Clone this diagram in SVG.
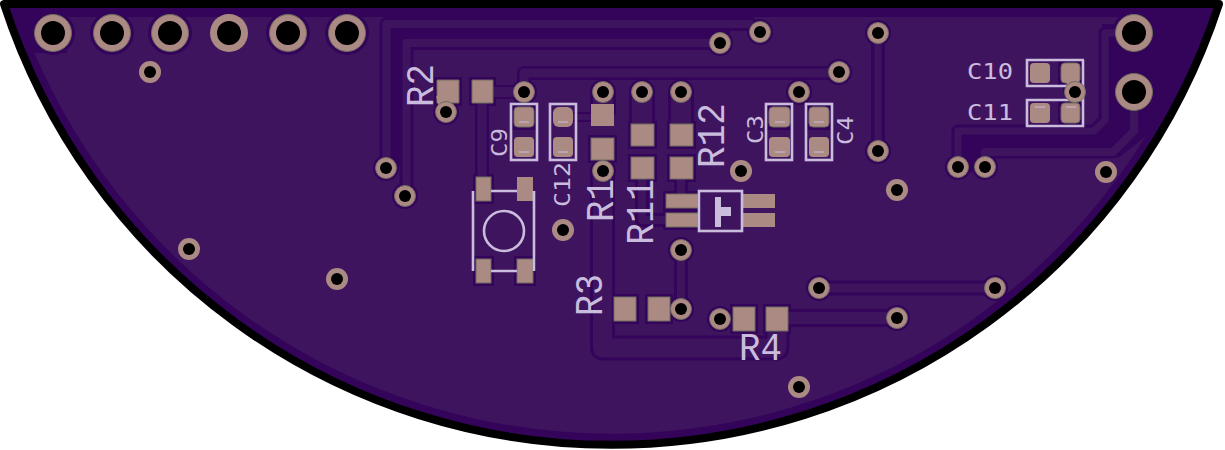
<svg xmlns="http://www.w3.org/2000/svg" width="1225" height="450" viewBox="0 0 1225 450">
<style>
.iso{fill:none;stroke:#33045a;stroke-linejoin:round}
.tr{fill:none;stroke:#3f145f;stroke-linejoin:round}
.p{fill:#ac8a84}
.pg{fill:#ac8a84;stroke:#6e6c60;stroke-width:1}
.v{fill:#ac8a84}
.vg{fill:#ac8a84;stroke:#6e6c60;stroke-width:1}
.h{fill:#000}
.s{fill:none;stroke:#c9bcdc;stroke-width:2.600}
.sf{fill:#c9bcdc}
text{font-family:"DejaVu Sans Mono","Liberation Mono",monospace;fill:#c9bcdc}
.big{font-family:"Liberation Mono","DejaVu Sans Mono",monospace;font-size:39px}
.sm{font-size:21px}
</style>
<rect width="1225" height="450" fill="#fff"/>
<g id="board">
<path d="M4 4H1219A639 639 0 0 1 4 4Z" fill="#33045a" stroke="#000" stroke-width="8" stroke-linejoin="round"/>
<path d="M67 17H1118L1125 24H1102V120L1094 128H958V172H985V155H1113L1146.500 135A628 628 0 0 1 34.500 53H67Z" fill="#3f145f"/>
</g>
<g id="connectors">
<path class="iso" stroke-width="14" d="M386.500 168V24H750L760 32"/>
<path class="iso" stroke-width="14" d="M406.500 196V43H720"/>
<path class="iso" stroke-width="12" d="M396 165V34H730"/>
<path class="iso" stroke-width="14" d="M524 92V73H839"/>
<path class="iso" stroke-width="14" d="M482 92H524"/>
<path class="iso" stroke-width="14" d="M482 92V177"/>
<path class="iso" stroke-width="10" d="M563 117H603"/>
<path class="iso" stroke-width="26" d="M603 92V115"/>
<path class="iso" stroke-width="26" d="M642 92V135"/>
<path class="iso" stroke-width="26" d="M681 92V135"/>
<path class="iso" stroke-width="25" d="M602.500 171V348H777V320"/>
<path class="iso" stroke-width="14" d="M642 168V220H670"/>
<path class="iso" stroke-width="14" d="M681 168V200"/>
<path class="iso" stroke-width="14" d="M681 250V309"/>
<path class="iso" stroke-width="14" d="M878 33V151"/>
<path class="iso" stroke-width="18" d="M777 318H897"/>
<path class="iso" stroke-width="15" d="M819 288H995"/>
<path class="iso" stroke-width="14" d="M1070 72V92"/>
<path class="iso" stroke-width="13" d="M958 167V131H1094L1105 120V33H1134"/>
<path class="iso" stroke-width="13" d="M985 167V152H1113L1134 131V92"/>
<path class="iso" stroke-width="3" d="M1117 157L1145 135"/>
<g id="clearance" fill="#33045a">
<circle cx="53" cy="33" r="22"/><circle cx="112" cy="33" r="22"/><circle cx="170" cy="33" r="22"/><circle cx="288" cy="33" r="22"/><circle cx="347" cy="33" r="22"/><circle cx="1134" cy="33" r="22"/><circle cx="1134" cy="92" r="22"/>
<circle cx="386" cy="168" r="13"/><circle cx="405" cy="196" r="13"/><circle cx="446" cy="112" r="13"/><circle cx="524" cy="92" r="13"/><circle cx="603" cy="92" r="13"/><circle cx="642" cy="92" r="13"/><circle cx="681" cy="92" r="13"/><circle cx="603" cy="171" r="13"/><circle cx="720" cy="43" r="13"/><circle cx="760" cy="32" r="13"/><circle cx="878" cy="33" r="13"/><circle cx="839" cy="72" r="13"/><circle cx="799" cy="92" r="13"/><circle cx="878" cy="151" r="13"/><circle cx="958" cy="167" r="13"/><circle cx="985" cy="167" r="13"/><circle cx="681" cy="250" r="13"/><circle cx="681" cy="309" r="13"/><circle cx="720" cy="319" r="13"/><circle cx="819" cy="288" r="13"/><circle cx="995" cy="288" r="13"/><circle cx="897" cy="318" r="13"/>
<rect x="434" y="77" width="28" height="29"/><rect x="469" y="77" width="27" height="29"/>
<rect x="511" y="104" width="26" height="26"/><rect x="588" y="135" width="29" height="28"/>
<rect x="628" y="121" width="29" height="28"/><rect x="628" y="154" width="29" height="28"/>
<rect x="667" y="121" width="29" height="28"/><rect x="667" y="154" width="29" height="28"/>
<rect x="473" y="174" width="21" height="30"/><rect x="473" y="256" width="21" height="30"/><rect x="514" y="256" width="22" height="30"/>
<rect x="663" y="191" width="38" height="39"/>
<rect x="611" y="294" width="28" height="30"/><rect x="645" y="294" width="28" height="30"/>
<rect x="730" y="304" width="28" height="30"/><rect x="763" y="304" width="28" height="30"/>
<rect x="766" y="104" width="27" height="26"/><rect x="806" y="104" width="26" height="26"/>
<rect x="1058" y="60" width="25" height="26"/><rect x="1058" y="100" width="25" height="26"/>
</g>
<path class="tr" stroke-width="8" d="M386.500 168V24H750L760 32"/>
<path class="tr" stroke-width="8" d="M406.500 196V43H720"/>
<path class="tr" stroke-width="9" d="M524 92V73H839"/>
<path class="tr" stroke-width="10" d="M482 92H524"/>
<path class="tr" stroke-width="9" d="M482 92V177"/>
<path class="tr" stroke-width="6" d="M563 117H603"/>
<path class="tr" stroke-width="20" d="M603 92V115"/>
<path class="tr" stroke-width="20" d="M642 92V135"/>
<path class="tr" stroke-width="20" d="M681 92V135"/>
<path class="tr" stroke-width="19" d="M602.500 171V348H777V320"/>
<path class="tr" stroke-width="8" d="M642 168V220H670"/>
<path class="tr" stroke-width="8" d="M681 168V200"/>
<path class="tr" stroke-width="8" d="M681 250V309"/>
<path class="tr" stroke-width="7" d="M878 33V151"/>
<path class="tr" stroke-width="12" d="M777 318H897"/>
<path class="tr" stroke-width="9" d="M819 288H995"/>
<path class="tr" stroke-width="8" d="M1070 72V92"/>
<path class="tr" stroke-width="7" d="M958 167V131H1094L1105 120V33H1134"/>
<path class="tr" stroke-width="8" d="M985 167V152H1113L1134 131V92"/>
</g>
<g id="pads">
<path class="pg" d="M437 80H459V103H437Z"/>
<path class="pg" d="M472 80H493V103H472Z"/>
<path d="M442 95L446 112" stroke="#ac8a84" stroke-width="12"/>
<rect class="pg" x="514" y="107" width="20" height="20" rx="4"/>
<rect class="p" x="514" y="137" width="20" height="20" rx="4"/>
<rect class="p" x="553" y="107" width="20" height="20" rx="6"/>
<rect class="p" x="553" y="137" width="20" height="20" rx="4"/>
<rect class="p" x="591" y="104" width="23" height="22"/>
<rect class="pg" x="591" y="138" width="23" height="22"/>
<rect class="pg" x="631" y="124" width="23" height="22"/>
<rect class="pg" x="631" y="157" width="23" height="22"/>
<rect class="pg" x="670" y="124" width="23" height="22"/>
<rect class="pg" x="670" y="157" width="23" height="22"/>
<rect class="pg" x="476" y="177" width="15" height="24"/>
<rect class="p" x="517" y="177" width="16" height="24"/>
<rect class="pg" x="476" y="259" width="15" height="24"/>
<rect class="pg" x="517" y="259" width="16" height="24"/>
<rect class="pg" x="666" y="194" width="32" height="14"/>
<rect class="pg" x="666" y="213" width="32" height="14"/>
<rect class="p" x="743" y="194" width="32" height="14"/>
<rect class="p" x="743" y="213" width="32" height="14"/>
<rect class="pg" x="614" y="297" width="22" height="24"/>
<rect class="pg" x="648" y="297" width="22" height="24"/>
<rect class="pg" x="733" y="307" width="22" height="24"/>
<rect class="pg" x="766" y="307" width="22" height="24"/>
<rect class="pg" x="769" y="107" width="21" height="20" rx="4"/>
<rect class="p" x="769" y="137" width="21" height="20" rx="4"/>
<rect class="pg" x="809" y="107" width="20" height="20" rx="4"/>
<rect class="p" x="809" y="137" width="20" height="20" rx="4"/>
<rect class="p" x="1030" y="63" width="20" height="20" rx="4"/>
<rect class="pg" x="1061" y="63" width="19" height="20" rx="4"/>
<path d="M1072 80L1075 92" stroke="#ac8a84" stroke-width="12"/>
<rect class="p" x="1030" y="103" width="20" height="20" rx="4"/>
<rect class="pg" x="1061" y="103" width="19" height="20" rx="4"/>
</g>
<g id="silk">
<rect class="s" x="511" y="104" width="26" height="56"/>
<rect class="s" x="550" y="104" width="26" height="56"/>
<rect class="s" x="766" y="104" width="26" height="56"/>
<rect class="s" x="806" y="104" width="26" height="56"/>
<path class="s" d="M1084 60H1027V86H1083M1083 60V126H1027V100H1084"/>
<path d="M519 122H529M519 152H529M558 122H568M558 152H568M775 122H785M775 152H785M814 122H824M814 152H824M1035 107H1045M1066 107H1076" fill="none" stroke="#c9bcdc" stroke-width="1"/>
<path class="s" d="M473 191V271M534 191V271M491 191H517M491 271H517"/>
<circle class="s" cx="504" cy="231" r="20"/>
<rect class="s" x="699" y="191" width="43" height="40"/>
<path class="sf" d="M715 197H721V207H731V216H721V227H715Z"/>
<text class="big" transform="translate(433 107) rotate(-90)" textLength="43" lengthAdjust="spacingAndGlyphs">R2</text>
<text class="sm" transform="translate(507 157) rotate(-90)" textLength="29" lengthAdjust="spacingAndGlyphs">C9</text>
<text class="sm" transform="translate(570 207) rotate(-90)" textLength="45" lengthAdjust="spacingAndGlyphs">C12</text>
<text class="big" transform="translate(613 222) rotate(-90)" textLength="43" lengthAdjust="spacingAndGlyphs">R1</text>
<text class="big" transform="translate(653 245) rotate(-90)" textLength="66" lengthAdjust="spacingAndGlyphs">R11</text>
<text class="big" transform="translate(724 168) rotate(-90)" textLength="65" lengthAdjust="spacingAndGlyphs">R12</text>
<text class="big" transform="translate(602 316) rotate(-90)" textLength="42" lengthAdjust="spacingAndGlyphs">R3</text>
<text class="big" x="739" y="360" textLength="43" lengthAdjust="spacingAndGlyphs">R4</text>
<text class="sm" transform="translate(763 144) rotate(-90)" textLength="29" lengthAdjust="spacingAndGlyphs">C3</text>
<text class="sm" transform="translate(853 145) rotate(-90)" textLength="29" lengthAdjust="spacingAndGlyphs">C4</text>
<text class="sm" x="967" y="79" textLength="46" lengthAdjust="spacingAndGlyphs">C10</text>
<text class="sm" x="967" y="120" textLength="46" lengthAdjust="spacingAndGlyphs">C11</text>
</g>
<g id="vias">
<g class="v">
<circle cx="150" cy="72" r="11"/><circle cx="189" cy="249" r="11"/><circle cx="337" cy="279" r="11"/><circle cx="563" cy="230" r="11"/><circle cx="741" cy="171" r="11"/><circle cx="897" cy="190" r="11"/><circle cx="799" cy="387" r="11"/><circle cx="1106" cy="172" r="11"/><circle cx="229" cy="33" r="19"/>
</g>
<g class="vg">
<circle cx="53" cy="33" r="18.500"/><circle cx="112" cy="33" r="18.500"/><circle cx="170" cy="33" r="18.500"/><circle cx="288" cy="33" r="18.500"/><circle cx="347" cy="33" r="18.500"/><circle cx="1134" cy="33" r="18.500"/><circle cx="1134" cy="92" r="18.500"/>
<circle cx="386" cy="168" r="10.500"/><circle cx="405" cy="196" r="10.500"/><circle cx="446" cy="112" r="10.500"/><circle cx="524" cy="92" r="10.500"/><circle cx="603" cy="92" r="10.500"/><circle cx="642" cy="92" r="10.500"/><circle cx="681" cy="92" r="10.500"/><circle cx="603" cy="171" r="10.500"/><circle cx="720" cy="43" r="10.500"/><circle cx="760" cy="32" r="10.500"/><circle cx="878" cy="33" r="10.500"/><circle cx="839" cy="72" r="10.500"/><circle cx="799" cy="92" r="10.500"/><circle cx="878" cy="151" r="10.500"/><circle cx="1075" cy="92" r="10.500"/><circle cx="958" cy="167" r="10.500"/><circle cx="985" cy="167" r="10.500"/><circle cx="681" cy="250" r="10.500"/><circle cx="681" cy="309" r="10.500"/><circle cx="720" cy="319" r="10.500"/><circle cx="819" cy="288" r="10.500"/><circle cx="995" cy="288" r="10.500"/><circle cx="897" cy="318" r="10.500"/>
</g>
<g class="h">
<circle cx="53" cy="33" r="12"/><circle cx="112" cy="33" r="12"/><circle cx="170" cy="33" r="12"/><circle cx="229" cy="33" r="12"/><circle cx="288" cy="33" r="12"/><circle cx="347" cy="33" r="12"/><circle cx="1134" cy="33" r="12"/><circle cx="1134" cy="92" r="12"/>
<circle cx="150" cy="72" r="6"/><circle cx="189" cy="249" r="6"/><circle cx="337" cy="279" r="6"/><circle cx="563" cy="230" r="6"/><circle cx="741" cy="171" r="6"/><circle cx="897" cy="190" r="6"/><circle cx="799" cy="387" r="6"/><circle cx="1106" cy="172" r="6"/>
<circle cx="386" cy="168" r="6"/><circle cx="405" cy="196" r="6"/><circle cx="446" cy="112" r="6"/><circle cx="524" cy="92" r="6"/><circle cx="603" cy="92" r="6"/><circle cx="642" cy="92" r="6"/><circle cx="681" cy="92" r="6"/><circle cx="603" cy="171" r="6"/><circle cx="720" cy="43" r="6"/><circle cx="760" cy="32" r="6"/><circle cx="878" cy="33" r="6"/><circle cx="839" cy="72" r="6"/><circle cx="799" cy="92" r="6"/><circle cx="878" cy="151" r="6"/><circle cx="1075" cy="92" r="6"/><circle cx="958" cy="167" r="6"/><circle cx="985" cy="167" r="6"/><circle cx="681" cy="250" r="6"/><circle cx="681" cy="309" r="6"/><circle cx="720" cy="319" r="6"/><circle cx="819" cy="288" r="6"/><circle cx="995" cy="288" r="6"/><circle cx="897" cy="318" r="6"/>
</g>
</g>
</svg>
